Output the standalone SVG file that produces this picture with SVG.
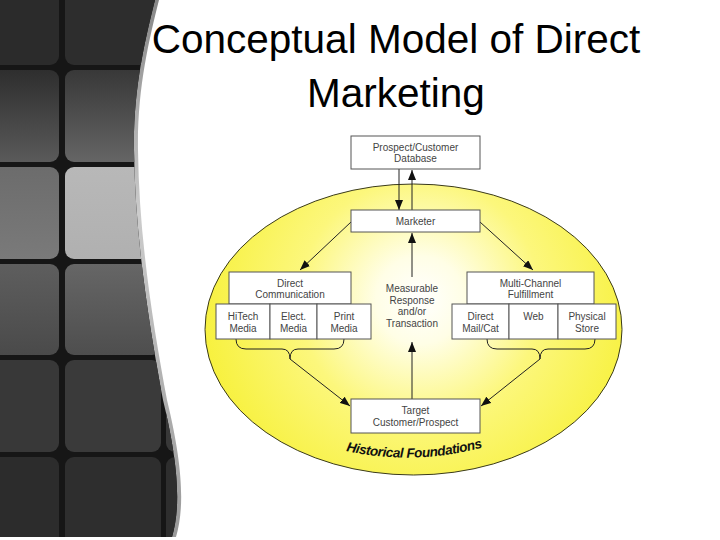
<svg xmlns="http://www.w3.org/2000/svg" width="720" height="540" viewBox="0 0 720 540">
<style>
.box{fill:#ffffff;stroke:#555555;stroke-width:1}
.lbl{font-family:"Liberation Sans",Arial,sans-serif;font-size:10px;fill:#444444;text-anchor:middle}
.conn{fill:none;stroke:#222222;stroke-width:1}
.title{font-family:"Liberation Sans",Arial,sans-serif;font-size:40.5px;fill:#000000;text-anchor:middle}
.tile{stroke:none}
</style>
<defs>
<marker id="ah" markerUnits="userSpaceOnUse" markerWidth="10" markerHeight="8" refX="10" refY="4" orient="auto">
<path d="M0,0 L10,4 L0,8 Z" fill="#111111"/>
</marker>
<radialGradient id="yel" cx="420" cy="300" r="220" gradientUnits="userSpaceOnUse">
<stop offset="0" stop-color="#ffffff"/>
<stop offset="0.2" stop-color="#fffee6"/>
<stop offset="0.55" stop-color="#fcf77c"/>
<stop offset="1" stop-color="#f7f13e"/>
</radialGradient>
<linearGradient id="hl" x1="0" y1="0" x2="0" y2="1">
<stop offset="0" stop-color="#888888"/>
<stop offset="0.4" stop-color="#cccccc"/>
<stop offset="1" stop-color="#999999"/>
</linearGradient>
<linearGradient id="r2a" x1="0" y1="0" x2="0" y2="1"><stop offset="0" stop-color="#2e2e2e"/><stop offset="1" stop-color="#5a5a5a"/></linearGradient>
<linearGradient id="r2b" x1="0" y1="0" x2="0" y2="1"><stop offset="0" stop-color="#383838"/><stop offset="1" stop-color="#656565"/></linearGradient>
<linearGradient id="r3a" x1="0" y1="0" x2="0" y2="1"><stop offset="0" stop-color="#6c6c6c"/><stop offset="1" stop-color="#7a7a7a"/></linearGradient>
<linearGradient id="r3b" x1="0" y1="0" x2="0" y2="1"><stop offset="0" stop-color="#b8b8b8"/><stop offset="1" stop-color="#b0b0b0"/></linearGradient>
<linearGradient id="r4a" x1="0" y1="0" x2="0" y2="1"><stop offset="0" stop-color="#5e5e5e"/><stop offset="1" stop-color="#4a4a4a"/></linearGradient>
<linearGradient id="r4b" x1="0" y1="0" x2="0" y2="1"><stop offset="0" stop-color="#666666"/><stop offset="1" stop-color="#4e4e4e"/></linearGradient>
<clipPath id="panelClip">
<path d="M0,0 L155,0 C145,40 133,90 134,150 C135,240 150,330 163,400 C180,470 180,510 172,537 L0,537 Z"/>
</clipPath>
</defs>

<rect x="0" y="0" width="720" height="540" fill="#ffffff"/>

<g id="side-panel">
<path d="M0,0 L159,0 C149,40 137,90 138,150 C139,240 154,330 167,400 C184,470 184,510 176,537 L0,537 Z" fill="url(#hl)"/>
<path d="M0,0 L155,0 C145,40 133,90 134,150 C135,240 150,330 163,400 C180,470 180,510 172,537 L0,537 Z" fill="#161616"/>
<g clip-path="url(#panelClip)">
<rect class="tile" x="-10" y="-10" width="69" height="75" rx="9" fill="#2b2b2b"/>
<rect class="tile" x="65" y="-10" width="96" height="75" rx="9" fill="#2d2d2d"/>
<rect class="tile" x="-10" y="70" width="69" height="92" rx="9" fill="url(#r2a)"/>
<rect class="tile" x="65" y="70" width="96" height="92" rx="9" fill="url(#r2b)"/>
<rect class="tile" x="-10" y="167" width="69" height="92" rx="9" fill="url(#r3a)"/>
<rect class="tile" x="65" y="167" width="96" height="92" rx="9" fill="url(#r3b)"/>
<rect class="tile" x="-10" y="264" width="69" height="91" rx="9" fill="url(#r4a)"/>
<rect class="tile" x="65" y="264" width="96" height="91" rx="9" fill="url(#r4b)"/>
<rect class="tile" x="-10" y="360" width="69" height="92" rx="9" fill="#383838"/>
<rect class="tile" x="65" y="360" width="96" height="92" rx="9" fill="#3a3a3a"/>
<rect class="tile" x="166" y="360" width="40" height="92" rx="9" fill="#383838"/>
<rect class="tile" x="-10" y="457" width="69" height="92" rx="9" fill="#2c2c2c"/>
<rect class="tile" x="65" y="457" width="96" height="92" rx="9" fill="#2e2e2e"/>
<rect class="tile" x="166" y="457" width="40" height="92" rx="9" fill="#2e2e2e"/>
</g>
</g>

<g id="title">
<text class="title" x="396" y="53">Conceptual Model of Direct</text>
<text class="title" x="396" y="107">Marketing</text>
</g>

<g id="historical-foundations">
<ellipse cx="413.5" cy="329.5" rx="208.5" ry="145.5" fill="url(#yel)" stroke="#3a3a1a" stroke-width="1"/>
<path id="arcPath" d="M346,451 Q414,466 484,447" fill="none" stroke="none"/>
<text font-family="'Liberation Sans',Arial,sans-serif" font-size="13.5" font-weight="bold" font-style="italic" fill="#111111" letter-spacing="-0.4"><textPath href="#arcPath">Historical Foundations</textPath></text>
</g>

<g id="connectors">
<line class="conn" x1="399" y1="169" x2="399" y2="210" marker-end="url(#ah)"/>
<line class="conn" x1="412" y1="210" x2="412" y2="170" marker-end="url(#ah)"/>
<line class="conn" x1="351" y1="222" x2="300" y2="270" marker-end="url(#ah)"/>
<line class="conn" x1="480" y1="222" x2="533" y2="270" marker-end="url(#ah)"/>
<line class="conn" x1="412" y1="277" x2="412" y2="233" marker-end="url(#ah)"/>
<line class="conn" x1="412" y1="399" x2="412" y2="342" marker-end="url(#ah)"/>
<path class="conn" d="M236,339 Q236,349 246,349 L282,349 Q290,349 290,359 Q290,349 298,349 L334,349 Q344,349 344,339"/>
<path class="conn" d="M487,339 Q487,349 497,349 L532,349 Q540,349 540,359 Q540,349 548,349 L585,349 Q595,349 595,339"/>
<line class="conn" x1="290" y1="359" x2="350" y2="406" marker-end="url(#ah)"/>
<line class="conn" x1="540" y1="359" x2="481" y2="406" marker-end="url(#ah)"/>
</g>

<g id="prospect-database">
<rect class="box" x="351" y="136" width="129" height="33"/>
<text class="lbl" x="415.5" y="150.5">Prospect/Customer</text>
<text class="lbl" x="415.5" y="161.5">Database</text>
</g>

<g id="marketer">
<rect class="box" x="351" y="210" width="129" height="22"/>
<text class="lbl" x="415.5" y="224.5">Marketer</text>
</g>

<g id="direct-communication">
<rect class="box" x="229" y="272" width="122" height="32"/>
<text class="lbl" x="290" y="286.5">Direct</text>
<text class="lbl" x="290" y="297.5">Communication</text>
</g>

<g id="hitech-media">
<rect class="box" x="216" y="304" width="54" height="35"/>
<text class="lbl" x="243" y="319.5">HiTech</text>
<text class="lbl" x="243" y="331.5">Media</text>
</g>

<g id="elect-media">
<rect class="box" x="270" y="304" width="47" height="35"/>
<text class="lbl" x="293.5" y="319.5">Elect.</text>
<text class="lbl" x="293.5" y="331.5">Media</text>
</g>

<g id="print-media">
<rect class="box" x="317" y="304" width="54" height="35"/>
<text class="lbl" x="344" y="319.5">Print</text>
<text class="lbl" x="344" y="331.5">Media</text>
</g>

<g id="measurable-response">
<text class="lbl" x="412" y="291.5">Measurable</text>
<text class="lbl" x="412" y="303.5">Response</text>
<text class="lbl" x="412" y="315">and/or</text>
<text class="lbl" x="412" y="327">Transaction</text>
</g>

<g id="multi-channel">
<rect class="box" x="467" y="272" width="127" height="32"/>
<text class="lbl" x="530.5" y="286.5">Multi-Channel</text>
<text class="lbl" x="530.5" y="297.5">Fulfillment</text>
</g>

<g id="direct-mail">
<rect class="box" x="452" y="304" width="57" height="35"/>
<text class="lbl" x="480.5" y="319.5">Direct</text>
<text class="lbl" x="480.5" y="331.5">Mail/Cat</text>
</g>

<g id="web">
<rect class="box" x="509" y="304" width="49" height="35"/>
<text class="lbl" x="533.5" y="319.5">Web</text>
</g>

<g id="physical-store">
<rect class="box" x="558" y="304" width="58" height="35"/>
<text class="lbl" x="587" y="319.5">Physical</text>
<text class="lbl" x="587" y="331.5">Store</text>
</g>

<g id="target">
<rect class="box" x="351" y="399" width="129" height="34"/>
<text class="lbl" x="415.5" y="413.5">Target</text>
<text class="lbl" x="415.5" y="425.5">Customer/Prospect</text>
</g>
</svg>
